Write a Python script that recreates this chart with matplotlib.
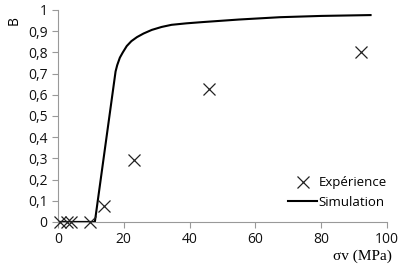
import matplotlib
matplotlib.use('Agg')
import matplotlib.pyplot as plt
from matplotlib.ticker import FuncFormatter

# experimental points
exp_x = [0.6, 2.7, 4.0, 9.7, 14.0, 23.0, 46.0, 92.0]
exp_y = [0.0, 0.0, 0.0, 0.0, 0.074, 0.292, 0.625, 0.80]

# simulation curve
sim_x = [0, 11.2, 17.5, 18.0, 18.8, 19.7, 20.9, 22.3, 24, 26, 28.5, 31.5, 34.5, 39, 44, 55, 67.5, 80, 95]
sim_y = [0, 0, 0.71, 0.74, 0.775, 0.80, 0.83, 0.853, 0.872, 0.889, 0.906, 0.92, 0.93, 0.937, 0.943, 0.955, 0.966, 0.972, 0.976]

x_ticks = [0, 20, 40, 60, 80, 100]
y_ticks = [0, 0.1, 0.2, 0.3, 0.4, 0.5, 0.6, 0.7, 0.8, 0.9, 1]

plt.rcParams['font.family'] = ['Open Sans', 'DejaVu Sans']

fig = plt.figure(figsize=(4, 2.7), dpi=100)
ax = fig.add_axes([0.145, 0.178, 0.8225, 0.785])

ax.plot(exp_x, exp_y, linestyle='none', marker='x', markersize=8, markeredgewidth=0.9,
        color='#222222', label='Expérience', clip_on=False, zorder=3)
ax.plot(sim_x, sim_y, color='black', linewidth=1.5, label='Simulation', solid_joinstyle='round')

ax.set_xlim(0, 100)
ax.set_ylim(0, 1)
ax.set_xticks(x_ticks)
ax.set_yticks(y_ticks)
ax.yaxis.set_major_formatter(FuncFormatter(lambda v, p: ('%g' % v).replace('.', ',')))
ax.tick_params(labelsize=10, color='#999999', length=4, width=0.8, labelcolor='#111111')
for s in ['top', 'right']:
    ax.spines[s].set_visible(False)
for s in ['left', 'bottom']:
    ax.spines[s].set_color('#999999')
    ax.spines[s].set_linewidth(0.8)

ax.set_xlabel('σv (MPa)', family='Liberation Serif', fontsize=11)
ax.xaxis.set_label_coords(0.925, -0.13)
ax.set_ylabel('B', fontsize=10)
ax.yaxis.set_label_coords(-0.11, 0.95)

ax.legend(loc='lower right', bbox_to_anchor=(1.035, 0.005), frameon=False, fontsize=9.5,
          handlelength=2.2, handletextpad=0.1, labelspacing=0.5)

fig.savefig('out.png', dpi=100)
